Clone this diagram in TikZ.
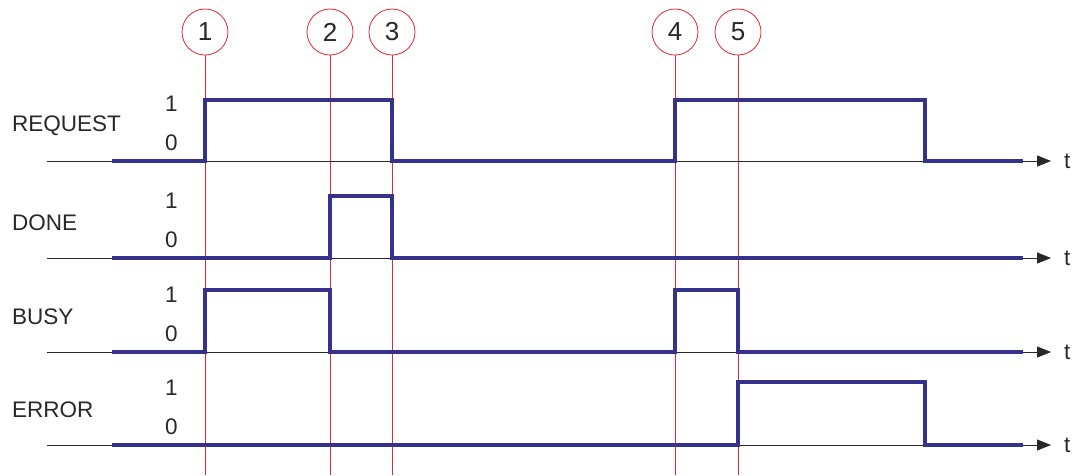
\documentclass[tikz,border=0pt]{standalone}
\usepackage{fontspec}
\setmainfont{Liberation Sans}
\usetikzlibrary{arrows.meta}
\definecolor{sigblue}{RGB}{52,50,140}
\definecolor{markred}{RGB}{228,40,50}
\definecolor{txtgray}{RGB}{40,40,40}

\begin{document}
\begin{tikzpicture}[
    x=1pt,
    y=-1pt,
    marker/.style={
        circle,
        draw=markred,
        thick,
        fill=white,
        minimum size=46pt,
        inner sep=0pt,
        text=txtgray,
        font=\fontsize{26}{26}\selectfont
    },
    markline/.style={
        draw=markred,
        line width=1pt
    },
    axisline/.style={
        draw=txtgray,
        line width=0.8pt,
        -{Triangle[length=14pt,width=11pt]}
    },
    signal/.style={
        draw=sigblue,
        line width=4.5pt,
        line join=miter
    },
    lbl/.style={
        anchor=west,
        inner sep=0pt,
        text=txtgray,
        font=\fontsize{22.5}{22.5}\selectfont
    }
]

    \useasboundingbox (0,0) rectangle (1085,475);

    % markers and their time lines
    \foreach \n/\x in {1/205, 2/330, 3/392, 4/675, 5/738} {
        \node[marker] (m\n) at (\x,32) {\n};
        \coordinate (b\n) at (\x,475);
        \draw[markline] (m\n) -- (b\n);
    }

    % time axes
    \foreach \s/\y/\name in {req/161/REQUEST, done/258/DONE, busy/352/BUSY, err/445/ERROR} {
        \coordinate (\s0) at (47,\y);
        \coordinate (\s1) at (1051,\y);
        \draw[axisline] (\s0) -- (\s1);
        \node[lbl] (\s t) at (1064,\y) {t};
        \node[lbl] (\s name) at (12,\y-35) {\name};
        \node[lbl] (\s hi) at (165,\y-57) {1};
        \node[lbl] (\s lo) at (165,\y-18) {0};
    }

    % signals
    \draw[signal] (112,161) -- (205,161) -- (205,100) -- (392,100) -- (392,161)
        -- (675,161) -- (675,100) -- (925,100) -- (925,161) -- (1023,161);
    \draw[signal] (112,258) -- (330,258) -- (330,196) -- (392,196) -- (392,258)
        -- (1023,258);
    \draw[signal] (112,352) -- (205,352) -- (205,290) -- (330,290) -- (330,352)
        -- (675,352) -- (675,290) -- (738,290) -- (738,352) -- (1023,352);
    \draw[signal] (112,445) -- (738,445) -- (738,382) -- (925,382) -- (925,445)
        -- (1023,445);

\end{tikzpicture}
\end{document}
